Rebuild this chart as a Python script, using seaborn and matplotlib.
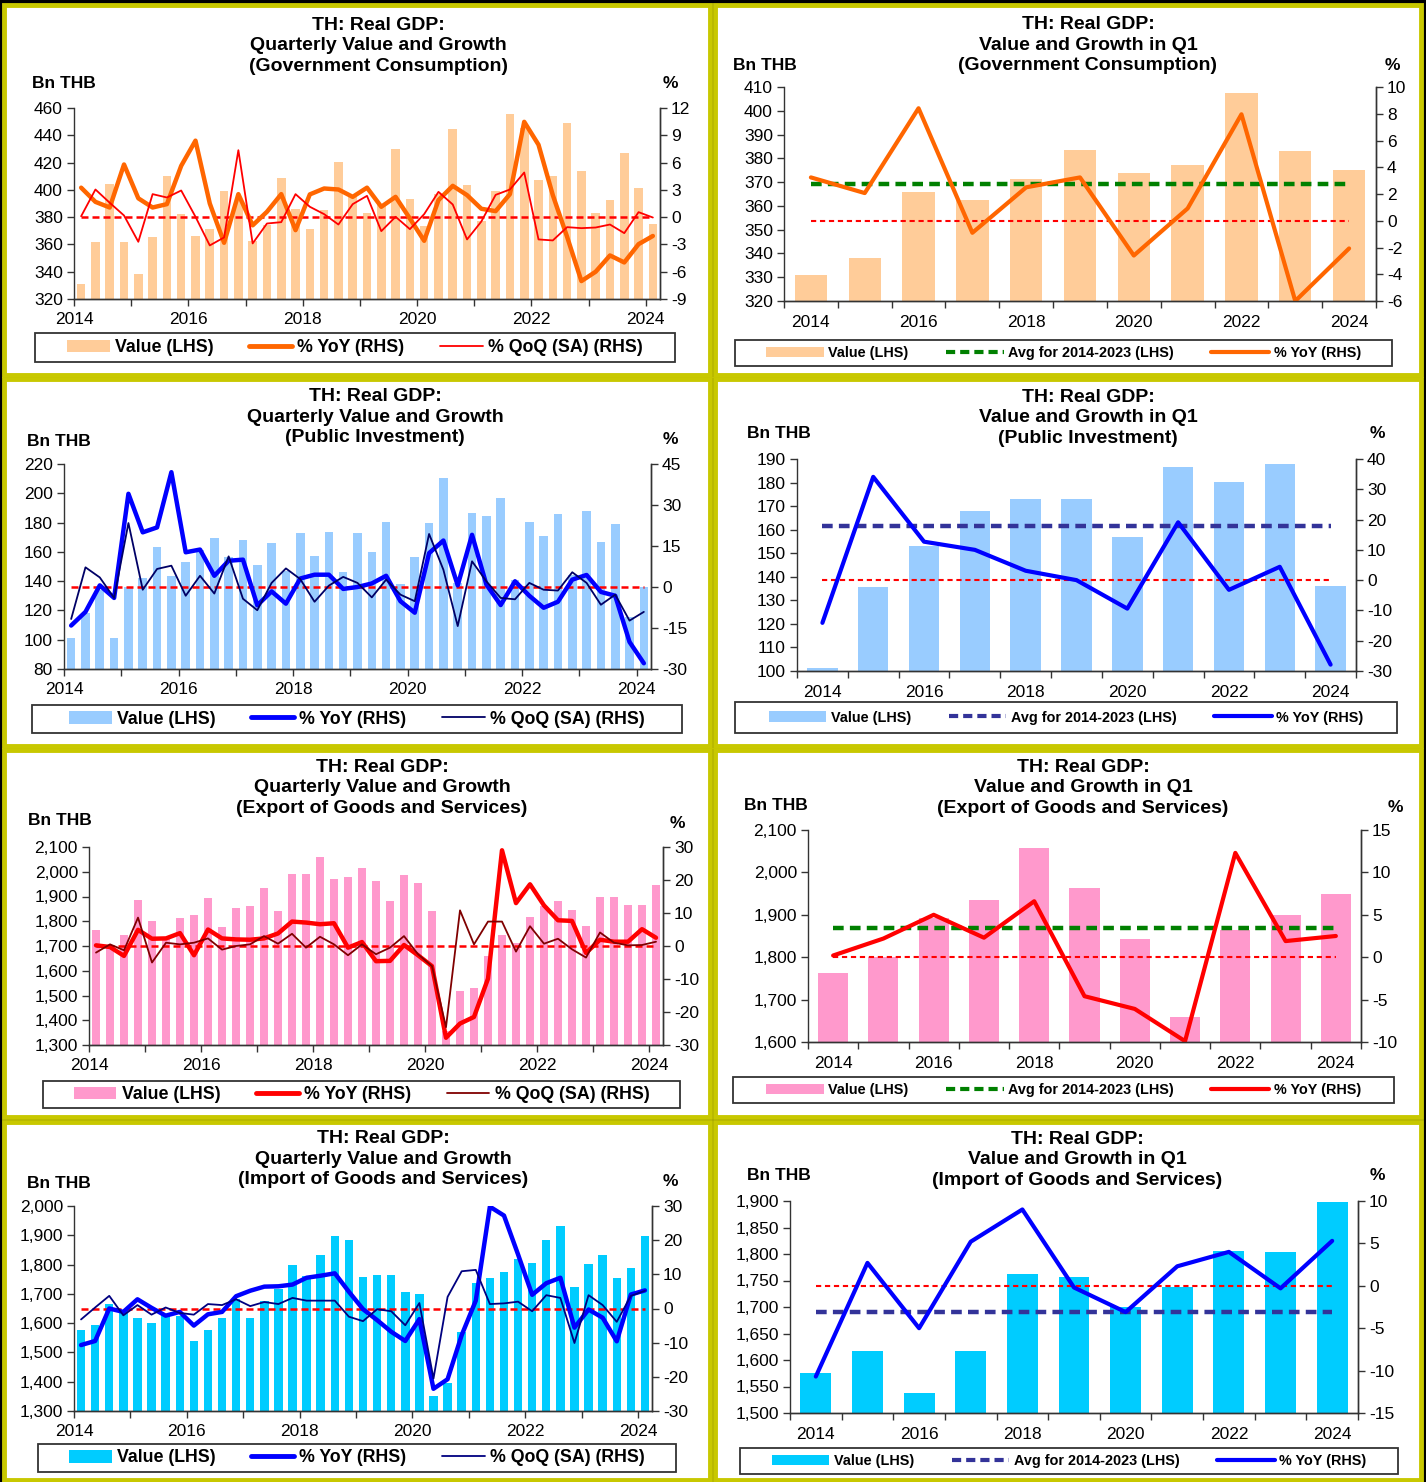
import numpy as np
import matplotlib.pyplot as plt
import seaborn as sns
from matplotlib.patches import Patch, Rectangle
from matplotlib.lines import Line2D
from matplotlib.ticker import FuncFormatter

# ---- data: quarterly 2014Q1 .. 2024Q1 ----
years = [str(y) for y in range(2014, 2025)]

gov_value = [331, 361.5, 404.5, 361.5, 338, 365.4, 410.5, 382, 366, 371.5, 398.8, 392,
             362.5, 374, 408.5, 386.3, 371.5, 385.6, 420.7, 394.5, 383.3, 390, 430.2, 393.4,
             373.7, 397, 444.9, 403.2, 377.4, 399.5, 455.9, 445, 407.3, 409.8, 449.3, 413.7,
             382.9, 392.4, 427.1, 401, 374.9]
gov_yoy = [3.24, 1.68, 1.06, 5.79, 2.07, 1.06, 1.43, 5.64, 8.41, 1.5, -2.82, 2.53,
           -0.9, 0.59, 2.53, -1.43, 2.5, 3.15, 3.04, 2.23, 3.24, 1.14, 2.23, -0.15,
           -2.6, 1.87, 3.44, 2.42, 0.92, 0.66, 2.53, 10.48, 7.96, 2.42, -2.16, -7.03,
           -6.0, -4.21, -4.98, -2.97, -2.07]
gov_qoq = [0.1, 3.04, 1.58, 0.18, -2.71, 2.53, 2.16, 2.93, 0.04, -3.11, -2.23, 7.36,
           -2.89, -0.7, -0.55, 2.53, 1.14, 0.33, -0.81, 1.43, 2.34, -1.54, 0.04, -1.32,
           0.33, 2.78, 1.39, -2.45, -0.48, 2.45, 3.04, 4.91, -2.45, -2.56, -1.1, -1.21,
           -1.14, -0.81, -1.76, 0.55, -0.04]

pub_value = [101.3, 118.3, 134.2, 101.2, 135.8, 142, 163.5, 143.2, 153, 161.5, 169.6, 156.6,
             168, 151.1, 166.2, 147, 173, 157.5, 173.7, 146.1, 173, 159.8, 180.3, 138,
             156.7, 179.4, 210.7, 138.8, 186.7, 184.7, 196.7, 140.7, 180.4, 170.8, 185.8, 144.5,
             188, 166.9, 179.2, 115.5, 135.9]
pub_yoy = [-14.1, -9.1, 0.6, -4.0, 34.1, 20.0, 21.8, 42.0, 12.7, 13.7, 4.1, 9.6,
           10.0, -6.7, -1.6, -6.1, 3.1, 4.5, 4.5, -0.7, 0.0, 1.3, 4.1, -5.2,
           -9.4, 12.4, 17.0, 0.6, 19.1, 0.9, -6.6, 2.1, -3.2, -7.6, -5.4, 2.7,
           4.4, -1.8, -3.2, -20.1, -27.9]
pub_qoq = [-11.7, 7.2, 3.5, -4.0, 23.4, -1.0, 6.6, 7.8, -3.2, 4.1, -2.4, 11.2,
           -4.3, -8.5, 1.5, 6.8, 2.9, -5.4, 0.5, 3.7, 1.5, -3.8, 2.7, -2.8,
           -5.2, 19.4, 6.3, -14.3, 9.4, 2.1, -4.0, -4.5, 1.5, -1.0, -1.3, 5.4,
           1.5, -6.5, -2.8, -12.3, -9.1]

exp_value = [1763, 1696, 1746, 1884, 1800, 1735, 1815, 1827, 1892, 1775, 1852, 1860,
             1934, 1843, 1991, 1989, 2058, 1969, 1977, 2014, 1964, 1881, 1985, 1953,
             1843, 1358, 1517, 1530, 1660, 1746, 1714, 1819, 1863, 1881, 1844, 1779,
             1900, 1896, 1864, 1864, 1948]
exp_yoy = [0.2, -0.3, -3.0, 4.9, 2.2, 2.3, 3.9, -2.8, 5.0, 2.3, 2.0, 1.9,
           2.3, 3.8, 7.4, 7.1, 6.6, 6.9, -0.5, 1.2, -4.6, -4.5, 0.3, -2.8,
           -6.1, -27.8, -23.5, -21.5, -9.9, 29.0, 13.0, 18.7, 12.3, 7.8, 7.6, -2.1,
           1.9, 1.3, 1.3, 5.1, 2.5]
exp_qoq = [-2.0, 0.5, -1.3, 8.6, -5.0, 1.0, 0.5, 1.0, 2.3, -1.1, 0.0, 0.5,
           3.0, 0.7, 3.7, -0.5, 2.8, 0.5, -2.8, 0.5, -2.5, -0.5, 3.0, -2.5,
           -6.1, -24.6, 10.8, 0.5, 7.4, 7.4, -1.7, 6.0, 0.7, 2.2, -1.0, -3.5,
           4.1, 1.0, 0.2, 0.3, 1.3]

imp_value = [1576, 1594, 1664, 1641, 1617, 1601, 1629, 1625, 1538, 1575, 1616, 1683,
             1617, 1676, 1716, 1800, 1762, 1831, 1896, 1883, 1756, 1766, 1763, 1705,
             1700, 1350, 1397, 1569, 1738, 1755, 1775, 1819, 1806, 1883, 1933, 1723,
             1803, 1833, 1753, 1790, 1899]
imp_yoy = [-10.7, -9.5, 0.0, -1.0, 2.7, 0.2, -2.1, -1.0, -5.0, -1.7, -1.0, 3.6,
           5.2, 6.4, 6.5, 7.0, 9.0, 9.6, 10.3, 4.9, -0.2, -3.4, -6.8, -9.5,
           -3.1, -23.5, -20.7, -7.8, 2.3, 29.8, 27.2, 15.8, 4.0, 7.4, 9.0, -5.6,
           -0.3, -2.7, -9.6, 4.1, 5.3]
imp_qoq = [-3.2, 0.3, 3.7, -2.0, 1.0, -1.8, 0.3, -1.3, -1.8, 1.3, 1.0, 2.7,
           0.7, 1.9, 1.3, 3.1, 2.3, 2.3, 2.3, -2.4, -3.7, -0.2, -0.8, -4.9,
           1.6, -20.5, 3.4, 10.9, 11.3, 1.3, 1.5, 2.0, -0.8, 3.9, 3.1, -10.1,
           3.9, 1.0, -3.9, 3.7, 5.2]

sns.set_style('ticks')
plt.rcParams['font.family'] = ['Liberation Sans', 'DejaVu Sans']
plt.rcParams['text.color'] = 'black'
plt.rcParams['xtick.color'] = '#333333'
plt.rcParams['ytick.color'] = '#333333'
plt.rcParams['xtick.labelcolor'] = 'black'
plt.rcParams['ytick.labelcolor'] = 'black'

W, H = 1426, 1482
fig = plt.figure(figsize=(W / 100, H / 100), dpi=100, facecolor='black')


def fx(x):
    return x / W


def fy(y):
    return 1 - y / H


def frame(x0, y0, x1, y1, face, edge, lw, z):
    fig.add_artist(Rectangle((fx(x0), fy(y1)), fx(x1 - x0), (y1 - y0) / H,
                             transform=fig.transFigure, facecolor=face,
                             edgecolor=edge, lw=lw, zorder=z))


def make_axes(box):
    l, t, r, b = box
    ax = fig.add_axes([fx(l), fy(b), fx(r - l), (b - t) / H])
    ax2 = ax.twinx()
    for a in (ax, ax2):
        a.spines['top'].set_visible(False)
        for s in ('left', 'right', 'bottom'):
            a.spines[s].set_color('#333333')
            a.spines[s].set_linewidth(1)
        a.tick_params(axis='y', direction='out', length=5, width=1, labelsize=12.5, pad=3)
        a.tick_params(axis='x', which='major', direction='out', length=5, width=1,
                      labelsize=12.5, pad=4.5)
    ax2.spines['left'].set_visible(False)
    return ax, ax2


def texts(title, tc, bn, pct):
    fig.text(fx(tc[0]), fy(tc[1]), title, ha='center', va='center', fontsize=14,
             fontweight='bold', linespacing=1.28)
    fig.text(fx(bn[0]), fy(bn[1]), 'Bn THB', ha='left', va='center', fontsize=12.5,
             fontweight='bold')
    fig.text(fx(pct[0]), fy(pct[1]), '%', ha='center', va='center', fontsize=12.5,
             fontweight='bold')


def legend(handles, labels, box, size, hl, cs):
    x0, y0, x1, y1 = box
    frame(x0, y0, x1, y1, 'white', '#333333', 1.3, -4)
    fig.legend(handles, labels, loc='center', ncol=3,
               bbox_to_anchor=(fx((x0 + x1) / 2), fy((y0 + y1) / 2)),
               frameon=False, prop={'weight': 'bold', 'size': size},
               handlelength=hl, handletextpad=0.3, columnspacing=cs,
               borderpad=0, borderaxespad=0)


def fmt_left(ax, lim, step):
    ax.set_ylim(lim)
    ax.set_yticks(np.arange(lim[0], lim[1] + step / 2, step))
    ax.yaxis.set_major_formatter(FuncFormatter(lambda v, p: f'{v:,.0f}'))


def fmt_right(ax2, lim, step):
    ax2.set_ylim(lim)
    ax2.set_yticks(np.arange(lim[0], lim[1] + step / 2, step))
    ax2.yaxis.set_major_formatter(FuncFormatter(lambda v, p: f'{v:.0f}'))


def quarterly_panel(box, value, yoy, qoq, colors, llim, lstep, rlim, rstep,
                    title, tc, bn, pct, lbox):
    bar_c, yoy_c, qoq_c = colors
    ax, ax2 = make_axes(box)
    x = np.arange(len(value))
    sns.barplot(x=x, y=value, ax=ax, color=bar_c, width=0.6, saturation=1,
                edgecolor='none', linewidth=0, errorbar=None)
    ax2.hlines(0, x[0], x[-1], colors='#FF0000', lw=1.8, linestyles=(0, (2.8, 1.6)))
    sns.lineplot(x=x, y=yoy, ax=ax2, color=yoy_c, linewidth=3.2, sort=False)
    sns.lineplot(x=x, y=qoq, ax=ax2, color=qoq_c, linewidth=1.3, sort=False)
    fmt_left(ax, llim, lstep)
    fmt_right(ax2, rlim, rstep)
    ax.set_xlim(-0.5, len(value) - 0.5)
    ax.set_xticks(np.arange(-0.5, len(value) - 1, 4))
    ax.set_xticklabels([y if i % 2 == 0 else '' for i, y in enumerate(years)])
    for a in (ax, ax2):
        a.set_xlabel('')
        a.set_ylabel('')
    texts(title, tc, bn, pct)
    handles = [Patch(facecolor=bar_c, edgecolor='none'),
               Line2D([], [], color=yoy_c, lw=3.5),
               Line2D([], [], color=qoq_c, lw=1.3)]
    legend(handles, ['Value (LHS)', '% YoY (RHS)', '% QoQ (SA) (RHS)'], lbox, 12.8, 2.4, 2.0)


def q1_panel(box, value, yoy, colors, llim, lstep, rlim, rstep,
             title, tc, bn, pct, lbox):
    bar_c, yoy_c, avg_c = colors
    ax, ax2 = make_axes(box)
    x = np.arange(len(value))
    sns.barplot(x=x, y=value, ax=ax, color=bar_c, width=0.6, saturation=1,
                edgecolor='none', linewidth=0, errorbar=None)
    avg = np.mean(value[:10])
    ax.hlines(avg, x[0], x[-1], colors=avg_c, lw=3.2, linestyles=(0, (2.4, 1.4)))
    ax2.hlines(0, x[0], x[-1], colors='#FF0000', lw=1.5, linestyles=(0, (2.5, 1.8)))
    sns.lineplot(x=x, y=yoy, ax=ax2, color=yoy_c, linewidth=3, sort=False)
    fmt_left(ax, llim, lstep)
    fmt_right(ax2, rlim, rstep)
    ax.set_xlim(-0.5, len(value) - 0.5)
    ax.set_xticks(np.arange(-0.5, len(value), 1))
    ax.set_xticklabels([])
    ax.set_xticks(x[::2], minor=True)
    ax.set_xticklabels(years[::2], minor=True)
    ax.tick_params(axis='x', which='minor', length=0, labelsize=12.5, pad=10)
    for a in (ax, ax2):
        a.set_xlabel('')
        a.set_ylabel('')
    texts(title, tc, bn, pct)
    handles = [Patch(facecolor=bar_c, edgecolor='none'),
               Line2D([], [], color=avg_c, lw=3, ls=(0, (2.2, 1.2))),
               Line2D([], [], color=yoy_c, lw=3)]
    legend(handles, ['Value (LHS)', 'Avg for 2014-2023 (LHS)', '% YoY (RHS)'], lbox,
           10.4, 4.0, 2.6)


# panel frames
for (x0, x1) in [(4, 710), (715, 1421)]:
    for (y0, y1) in [(5, 375), (379, 746), (750, 1117), (1122, 1480)]:
        frame(x0, y0, x1, y1, 'white', '#C8C800', 3.5, -5)

quarterly_panel((74, 108, 660, 299), gov_value, gov_yoy, gov_qoq,
                ('#FFCC99', '#FF6600', '#FF0000'), (320, 460), 20, (-9, 12), 3,
                'TH: Real GDP:\nQuarterly Value and Growth\n(Government Consumption)',
                (378, 46), (32, 83), (670, 84), (35, 333, 675, 362))
q1_panel((784, 87, 1376, 301), gov_value[::4], gov_yoy[::4],
         ('#FFCC99', '#FF6600', '#008000'), (320, 410), 10, (-6, 10), 2,
         'TH: Real GDP:\nValue and Growth in Q1\n(Government Consumption)',
         (1088, 45), (733, 66), (1392, 66), (735, 340, 1392, 366))

quarterly_panel((64, 464, 651, 669), pub_value, pub_yoy, pub_qoq,
                ('#99CCFF', '#0000FF', '#000066'), (80, 220), 20, (-30, 45), 15,
                'TH: Real GDP:\nQuarterly Value and Growth\n(Public Investment)',
                (375, 417), (27, 441), (670, 439), (32, 705, 682, 733))
q1_panel((797, 459, 1356, 671), pub_value[::4], pub_yoy[::4],
         ('#99CCFF', '#0000FF', '#333399'), (100, 190), 10, (-30, 40), 10,
         'TH: Real GDP:\nValue and Growth in Q1\n(Public Investment)',
         (1088, 418), (747, 433), (1377, 434), (735, 702, 1397, 733))

quarterly_panel((89, 847, 663, 1045), exp_value, exp_yoy, exp_qoq,
                ('#FF99CC', '#FF0000', '#800000'), (1300, 2100), 100, (-30, 30), 10,
                'TH: Real GDP:\nQuarterly Value and Growth\n(Export of Goods and Services)',
                (382, 788), (28, 821), (677, 824), (43, 1081, 680, 1108))
q1_panel((808, 830, 1361, 1042), exp_value[::4], exp_yoy[::4],
         ('#FF99CC', '#FF0000', '#008000'), (1600, 2100), 100, (-10, 15), 5,
         'TH: Real GDP:\nValue and Growth in Q1\n(Export of Goods and Services)',
         (1083, 788), (744, 805), (1395, 808), (733, 1077, 1394, 1103))

quarterly_panel((74, 1206, 652, 1411), imp_value, imp_yoy, imp_qoq,
                ('#00CCFF', '#0000FF', '#000080'), (1300, 2000), 100, (-30, 30), 10,
                'TH: Real GDP:\nQuarterly Value and Growth\n(Import of Goods and Services)',
                (383, 1159), (27, 1183), (670, 1181), (38, 1444, 676, 1472))
q1_panel((790, 1201, 1358, 1413), imp_value[::4], imp_yoy[::4],
         ('#00CCFF', '#0000FF', '#333399'), (1500, 1900), 50, (-15, 10), 5,
         'TH: Real GDP:\nValue and Growth in Q1\n(Import of Goods and Services)',
         (1077, 1160), (747, 1175), (1377, 1176), (740, 1448, 1398, 1474))

fig.savefig('out.png', dpi=100, facecolor=fig.get_facecolor())
